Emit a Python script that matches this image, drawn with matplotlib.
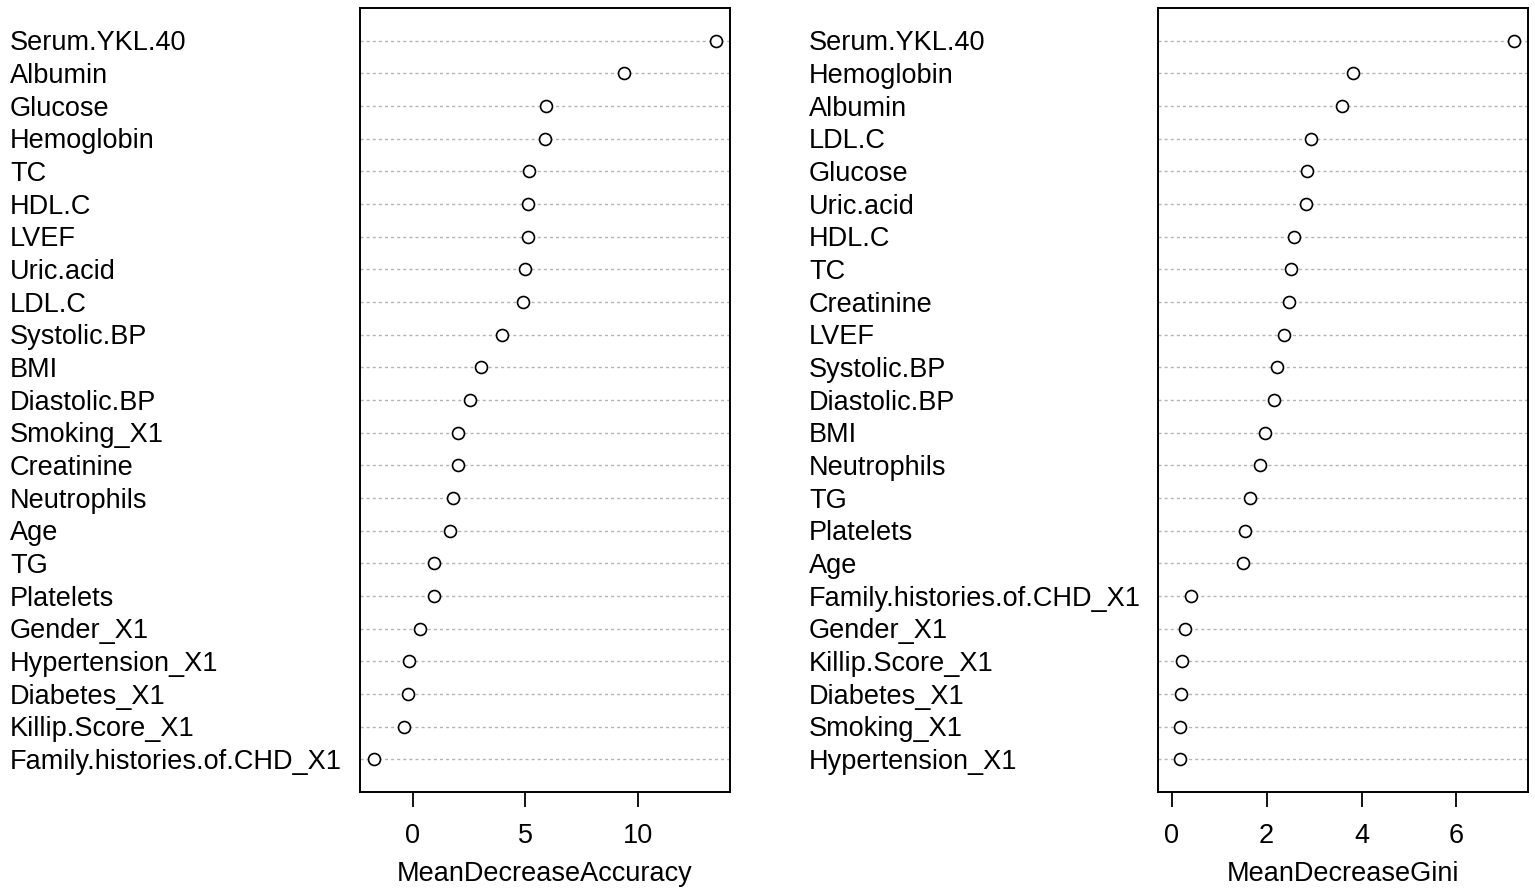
import matplotlib
matplotlib.use("Agg")
import matplotlib.pyplot as plt
from matplotlib.transforms import blended_transform_factory

plt.rcParams['font.family'] = ['Liberation Sans', 'DejaVu Sans']

# Mean decrease accuracy (top to bottom)
acc_labels = ["Serum.YKL.40", "Albumin", "Glucose", "Hemoglobin", "TC", "HDL.C", "LVEF",
              "Uric.acid", "LDL.C", "Systolic.BP", "BMI", "Diastolic.BP", "Smoking_X1",
              "Creatinine", "Neutrophils", "Age", "TG", "Platelets", "Gender_X1",
              "Hypertension_X1", "Diabetes_X1", "Killip.Score_X1", "Family.histories.of.CHD_X1"]
acc_values = [13.46, 9.37, 5.92, 5.85, 5.17, 5.10, 5.10, 4.96, 4.89, 3.97, 3.01, 2.54, 2.02,
              2.02, 1.79, 1.66, 0.96, 0.96, 0.31, -0.15, -0.22, -0.38, -1.73]

# Mean decrease Gini (top to bottom)
gini_labels = ["Serum.YKL.40", "Hemoglobin", "Albumin", "LDL.C", "Glucose", "Uric.acid",
               "HDL.C", "TC", "Creatinine", "LVEF", "Systolic.BP", "Diastolic.BP", "BMI",
               "Neutrophils", "TG", "Platelets", "Age", "Family.histories.of.CHD_X1",
               "Gender_X1", "Killip.Score_X1", "Diabetes_X1", "Smoking_X1", "Hypertension_X1"]
gini_values = [7.22, 3.82, 3.58, 2.94, 2.86, 2.82, 2.58, 2.51, 2.47, 2.36, 2.22, 2.15, 1.96,
               1.87, 1.64, 1.54, 1.51, 0.40, 0.29, 0.22, 0.19, 0.18, 0.18]

acc_ticks = [0, 5, 10]
gini_ticks = [0, 2, 4, 6]

W, H = 1535, 896
FS = 19.5
fig = plt.figure(figsize=(W / 100, H / 100), dpi=100)

def panel(x0px, labels, values, ticks, xlabel, label_x_px, xmin_zero):
    ax = fig.add_axes([x0px / W, 1 - 792 / H, 370 / W, 784 / H])
    n = len(values)
    ys = list(range(n, 0, -1))
    for y in ys:
        ax.axhline(y, color='#b4b4b4', lw=1.0, ls=(0, (2.2, 2.2)), zorder=1)
    ax.plot(values, ys, 'o', mfc='white', mec='black', ms=8.6, mew=1.2, ls='none', zorder=3)
    lo = 0 if xmin_zero else min(values)
    hi = max(values)
    r = hi - lo
    ax.set_xlim(lo - 0.04 * r, hi + 0.04 * r)
    ax.set_ylim(0, n + 1)
    ax.set_yticks([])
    ax.set_xticks(ticks)
    ax.set_xticklabels([str(t) for t in ticks], fontsize=FS)
    ax.tick_params(axis='x', length=11, width=1.3, pad=11, direction='out')
    for s in ax.spines.values():
        s.set_linewidth(1.4)
    ax.set_xlabel(xlabel, fontsize=FS, labelpad=9)
    tr = blended_transform_factory(fig.transFigure, ax.transData)
    for lab, y in zip(labels, ys):
        ax.text(label_x_px / W, y - 0.08, lab, transform=tr, ha='left', va='center',
                fontsize=FS, clip_on=False)
    return ax

panel(360, acc_labels, acc_values, acc_ticks, "MeanDecreaseAccuracy", 10, False)
panel(1158, gini_labels, gini_values, gini_ticks, "MeanDecreaseGini", 809, True)

fig.savefig("out.png", dpi=100, facecolor='white')
